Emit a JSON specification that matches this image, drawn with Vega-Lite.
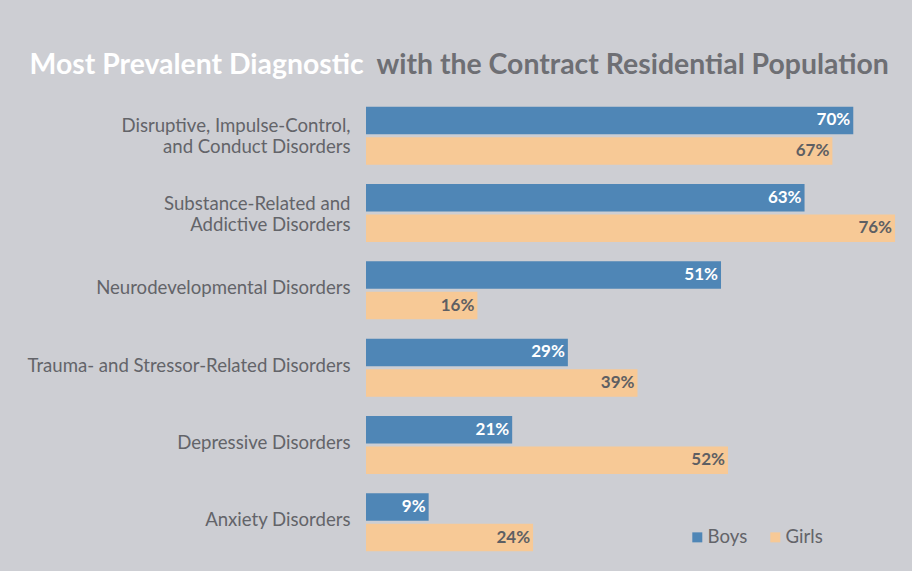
{
  "$schema": "https://vega.github.io/schema/vega-lite/v6.json",
  "width": 536,
  "height": 464,
  "autosize": {"type": "none"},
  "padding": {"left": 366, "top": 97, "right": 10, "bottom": 10},
  "background": "#cdced3",
  "config": {
    "view": {"stroke": null},
    "font": "Lato",
    "axis": {"labelFont": "Lato", "titleFont": "Lato"}
  },
  "data": {
    "values": [
      {"dx": "Disruptive, Impulse-Control,|and Conduct Disorders", "gender": "Boys", "pct": 0.70},
      {"dx": "Disruptive, Impulse-Control,|and Conduct Disorders", "gender": "Girls", "pct": 0.67},
      {"dx": "Substance-Related and|Addictive Disorders", "gender": "Boys", "pct": 0.63},
      {"dx": "Substance-Related and|Addictive Disorders", "gender": "Girls", "pct": 0.76},
      {"dx": "Neurodevelopmental Disorders", "gender": "Boys", "pct": 0.51},
      {"dx": "Neurodevelopmental Disorders", "gender": "Girls", "pct": 0.16},
      {"dx": "Trauma- and Stressor-Related Disorders", "gender": "Boys", "pct": 0.29},
      {"dx": "Trauma- and Stressor-Related Disorders", "gender": "Girls", "pct": 0.39},
      {"dx": "Depressive Disorders", "gender": "Boys", "pct": 0.21},
      {"dx": "Depressive Disorders", "gender": "Girls", "pct": 0.52},
      {"dx": "Anxiety Disorders", "gender": "Boys", "pct": 0.09},
      {"dx": "Anxiety Disorders", "gender": "Girls", "pct": 0.24}
    ]
  },
  "encoding": {
    "y": {
      "field": "dx",
      "type": "nominal",
      "sort": null,
      "scale": {"paddingInner": 0.25, "paddingOuter": 0.125},
      "axis": {
        "domain": false,
        "ticks": false,
        "labelPadding": 16,
        "labelFontSize": 18.6,
        "labelColor": "#636469",
        "labelLineHeight": 21,
        "labelLimit": 400,
        "labelOffset": {"expr": "indexof(datum.value, '|') >= 0 ? -9.5 : -2"},
        "labelExpr": "split(datum.value, '|')",
        "title": "Most Prevalent Diagnostic",
        "titleAngle": 0,
        "titleX": -337,
        "titleY": -24,
        "titleAlign": "left",
        "titleBaseline": "alphabetic",
        "titleFontSize": 28.4,
        "titleFontWeight": "bold",
        "titleColor": "#ffffff"
      }
    },
    "yOffset": {
      "field": "gender",
      "type": "nominal",
      "scale": {"paddingInner": 0.1, "paddingOuter": 0}
    },
    "x": {
      "field": "pct",
      "type": "quantitative",
      "scale": {"domain": [0, 0.77], "nice": false},
      "axis": {
        "orient": "top",
        "domain": false,
        "ticks": false,
        "labels": false,
        "grid": false,
        "title": "with the Contract Residential Population",
        "titleX": 10,
        "titleY": -24,
        "titleAlign": "left",
        "titleAnchor": "start",
        "titleBaseline": "alphabetic",
        "titleFontSize": 28.4,
        "titleFontWeight": "bold",
        "titleColor": "#6e6f74"
      }
    }
  },
  "layer": [
    {
      "mark": {"type": "bar"},
      "encoding": {
        "color": {
          "field": "gender",
          "type": "nominal",
          "scale": {"domain": ["Boys", "Girls"], "range": ["#4f86b6", "#f7c996"]},
          "legend": {
            "title": null,
            "orient": "none",
            "legendX": 322,
            "legendY": 431,
            "direction": "horizontal",
            "symbolType": "square",
            "symbolSize": 100,
            "symbolOpacity": 1,
            "labelFontSize": 18.6,
            "labelColor": "#636469",
            "labelFont": "Lato",
            "columnPadding": 18,
            "labelOffset": 1
          }
        }
      }
    },
    {
      "mark": {"type": "text", "align": "right", "dx": -3, "fontSize": 17, "fontWeight": "bold", "baseline": "middle"},
      "encoding": {
        "text": {"field": "pct", "type": "quantitative", "format": ".0%"},
        "color": {
          "condition": {"test": "datum.gender === 'Boys'", "value": "#ffffff"},
          "value": "#5e5f63"
        }
      }
    }
  ]
}
